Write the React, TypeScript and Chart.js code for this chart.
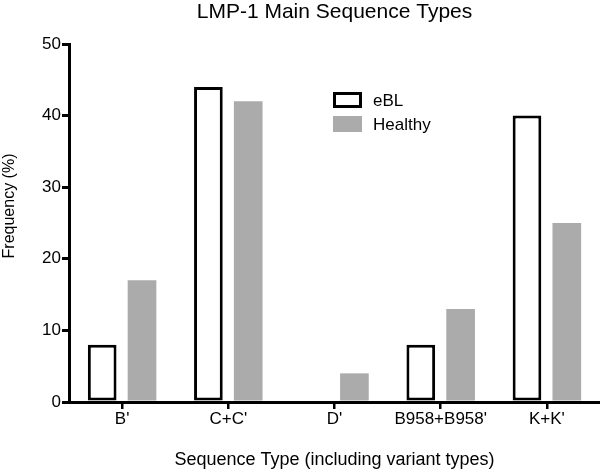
import React, { useEffect, useRef } from "react";
import { Chart, registerables } from "chart.js";

Chart.register(...registerables);

const categories = ["B'", "C+C'", "D'", "B958+B958'", "K+K'"];
const eblValues = [8, 44, 0, 8, 40];
const healthyValues = [17, 42, 4, 13, 25];
const seriesNames = ["eBL", "Healthy"];
const yTicks = [0, 10, 20, 30, 40, 50];
const chartTitle = "LMP-1 Main Sequence Types";
const yTitle = "Frequency (%)";
const xTitle = "Sequence Type (including variant types)";

const FONT = "Arial, 'Liberation Sans', sans-serif";

const legendPlugin = {
  id: "customLegend",
  afterDraw(chart: any) {
    const { ctx, chartArea } = chart;
    ctx.save();
    chart.data.datasets.forEach((ds: any, i: number) => {
      const x = chartArea.left + 264;
      const y = chartArea.top + 48 + i * 24;
      const w = 29;
      const h = 16;
      ctx.fillStyle = ds.backgroundColor;
      ctx.fillRect(x, y, w, h);
      if (ds.borderWidth > 0) {
        ctx.lineWidth = ds.borderWidth;
        ctx.strokeStyle = ds.borderColor;
        const b = ds.borderWidth / 2;
        ctx.strokeRect(x + b, y + b, w - 2 * b, h - 2 * b);
      }
      ctx.fillStyle = "#000";
      ctx.font = `17px ${FONT}`;
      ctx.textBaseline = "middle";
      ctx.textAlign = "left";
      ctx.fillText(ds.label, x + 40, y + h / 2 + 1);
    });
    ctx.restore();
  },
};

const titlesPlugin = {
  id: "titles",
  afterDraw(chart: any) {
    const { ctx, chartArea } = chart;
    ctx.save();
    ctx.fillStyle = "#000";
    // main title, centred over the plot area
    ctx.font = `21px ${FONT}`;
    ctx.textAlign = "center";
    ctx.textBaseline = "alphabetic";
    ctx.fillText(chartTitle, (chartArea.left + chartArea.right) / 2, 18);
    // y axis title
    ctx.translate(10, (chartArea.top + chartArea.bottom) / 2 - 17);
    ctx.rotate(-Math.PI / 2);
    ctx.font = `16px ${FONT}`;
    ctx.textAlign = "center";
    ctx.textBaseline = "middle";
    ctx.fillText(yTitle, 0, 0);
    ctx.restore();
  },
};

export default function App() {
  const ref = useRef<HTMLCanvasElement | null>(null);

  useEffect(() => {
    if (!ref.current) return;
    const chart = new Chart(ref.current, {
      type: "bar",
      data: {
        labels: categories,
        datasets: [
          {
            label: seriesNames[0],
            data: eblValues,
            backgroundColor: "#ffffff",
            borderColor: "#000000",
            borderWidth: 3,
            borderSkipped: false,
            categoryPercentage: 0.75,
            barPercentage: 0.72,
          },
          {
            label: seriesNames[1],
            data: healthyValues,
            backgroundColor: "#ababab",
            borderColor: "#ababab",
            borderWidth: 0,
            categoryPercentage: 0.75,
            barPercentage: 0.72,
          },
        ],
      },
      options: {
        animation: false,
        responsive: false,
        maintainAspectRatio: false,
        layout: { padding: { left: 0, right: 0, top: 44, bottom: 0 } },
        plugins: {
          legend: { display: false },
          tooltip: { enabled: false },
          title: { display: false },
        },
        scales: {
          x: {
            offset: true,
            grid: {
              display: true,
              offset: false,
              drawOnChartArea: false,
              drawTicks: true,
              tickLength: 7,
              lineWidth: 2.5,
              color: "#000",
            },
            border: { display: true, width: 3, color: "#000" },
            ticks: {
              color: "#000",
              font: { family: FONT, size: 17 },
              padding: 0,
              maxRotation: 0,
              autoSkip: false,
            },
            title: {
              display: true,
              text: xTitle,
              color: "#000",
              font: { family: FONT, size: 18, lineHeight: 1.2 },
              padding: { top: 4, bottom: 1 },
            },
            afterFit(scale: any) {
              scale.height = 70;
            },
          },
          y: {
            min: 0,
            max: 50,
            afterBuildTicks(scale: any) {
              scale.ticks = yTicks.map((v) => ({ value: v }));
            },
            grid: {
              display: true,
              drawOnChartArea: false,
              drawTicks: true,
              tickLength: 7,
              lineWidth: 3,
              color: "#000",
            },
            border: { display: true, width: 3, color: "#000" },
            ticks: {
              color: "#000",
              font: { family: FONT, size: 17 },
              padding: 1,
            },
            afterFit(scale: any) {
              scale.width = 69;
            },
          },
        },
      },
      plugins: [legendPlugin, titlesPlugin],
    });
    return () => chart.destroy();
  }, []);

  return (
    <div style={{ position: "fixed", left: 0, top: 0, width: 600, height: 472, background: "#fff" }}>
      <canvas ref={ref} width={600} height={472} style={{ width: 600, height: 472 }} />
    </div>
  );
}
